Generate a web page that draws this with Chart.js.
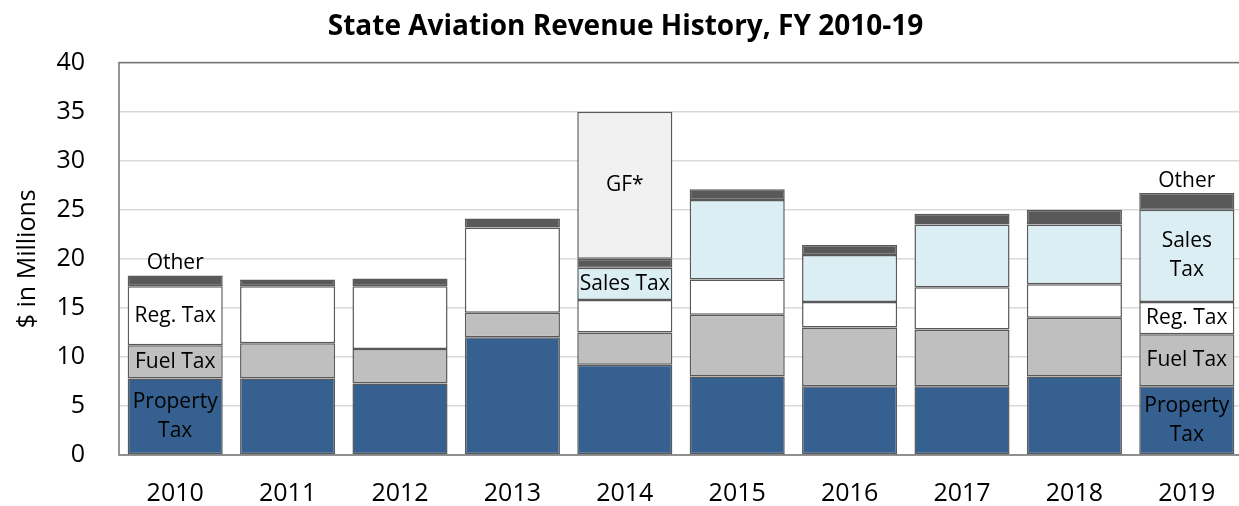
<!DOCTYPE html>
<html>
<head>
<meta charset="utf-8">
<script src="https://cdn.jsdelivr.net/npm/chart.js@4"></script>
<style>
  html, body { margin: 0; padding: 0; background: #fff; overflow: hidden; }
</style>
</head>
<body>
<canvas id="myChart" width="1243" height="506"></canvas>
<script>
const years = ["2010", "2011", "2012", "2013", "2014", "2015", "2016", "2017", "2018", "2019"];
const propertyTax = [7.8, 7.8, 7.3, 12.0, 9.2, 8.0, 7.0, 7.0, 8.0, 7.0];
const fuelTax     = [3.4, 3.6, 3.5, 2.5, 3.3, 6.3, 6.0, 5.8, 6.0, 5.3];
const regTax      = [6.0, 5.8, 6.4, 8.7, 3.3, 3.6, 2.6, 4.3, 3.4, 3.3];
const salesTax    = [0, 0, 0, 0, 3.3, 8.1, 4.8, 6.4, 6.1, 9.4];
const otherRev    = [1.1, 0.7, 0.8, 0.9, 0.9, 1.1, 1.0, 1.1, 1.5, 1.7];
const generalFund = [0, 0, 0, 0, 15.0, 0, 0, 0, 0, 0];
const yTicks = [0, 5, 10, 15, 20, 25, 30, 35, 40];

// which segments get a text label (dataset index, year index, lines)
const segLabels = [
  { ds: 0, i: 0, text: ["Property", "Tax"] },
  { ds: 1, i: 0, text: ["Fuel Tax"] },
  { ds: 2, i: 0, text: ["Reg. Tax"] },
  { ds: 4, i: 0, text: ["Other"], above: true },
  { ds: 3, i: 4, text: ["Sales Tax"] },
  { ds: 5, i: 4, text: ["GF*"] },
  { ds: 0, i: 9, text: ["Property", "Tax"] },
  { ds: 1, i: 9, text: ["Fuel Tax"] },
  { ds: 2, i: 9, text: ["Reg. Tax"] },
  { ds: 3, i: 9, text: ["Sales", "Tax"] },
  { ds: 4, i: 9, text: ["Other"], above: true },
];

const FONT = "'Open Sans', 'Noto Sans', sans-serif";

const barLabels = {
  id: 'barLabels',
  afterDatasetsDraw(chart) {
    const { ctx } = chart;
    ctx.save();
    ctx.font = "21px " + FONT;
    ctx.textAlign = 'center';
    ctx.textBaseline = 'middle';
    ctx.fillStyle = '#000000';
    segLabels.forEach((l) => {
      const el = chart.getDatasetMeta(l.ds).data[l.i];
      const lh = 29;
      let cy;
      if (l.above) {
        cy = el.y - 12;
      } else {
        cy = (el.y + el.base) / 2 - (l.text.length - 1) * lh / 2;
      }
      l.text.forEach((t, k) => ctx.fillText(t, el.x, cy + k * lh));
    });
    ctx.restore();
  }
};

const plotBorder = {
  id: 'plotBorder',
  beforeDatasetsDraw(chart) {
    const { ctx, chartArea: a } = chart;
    ctx.save();
    ctx.strokeStyle = '#737373';
    ctx.lineWidth = 1.5;
    ctx.strokeRect(a.left, a.top, a.right - a.left, a.bottom - a.top);
    ctx.restore();
  }
};

function ds(label, data, color) {
  return {
    label: label,
    data: data,
    backgroundColor: color,
    borderColor: '#595959',
    borderWidth: 1.5,
    borderSkipped: false,
    barPercentage: 0.846,
    categoryPercentage: 1.0,
  };
}

const ctx = document.getElementById("myChart");

const myChart = new Chart(ctx, {
  type: "bar",
  plugins: [barLabels, plotBorder],
  data: {
    labels: years,
    datasets: [
      ds("Property Tax", propertyTax, "#36608f"),
      ds("Fuel Tax", fuelTax, "#bfbfbf"),
      ds("Reg. Tax", regTax, "#ffffff"),
      ds("Sales Tax", salesTax, "#daeef3"),
      ds("Other", otherRev, "#595959"),
      ds("GF*", generalFund, "#f1f1f1"),
    ],
  },
  options: {
    responsive: false,
    animation: false,
    maintainAspectRatio: false,
    layout: {
      padding: { left: 8, right: 0, top: 4, bottom: 0 }
    },
    plugins: {
      title: {
        display: true,
        text: "State Aviation Revenue History, FY 2010-19",
        color: "#000",
        font: { family: FONT, size: 28, weight: 'bold' },
        padding: { top: 6, bottom: 19 },
      },
      legend: { display: false },
      tooltip: { enabled: false },
    },
    scales: {
      x: {
        stacked: true,
        afterFit(axis) { axis.height = 51; },
        grid: { display: false, drawTicks: false },
        border: { display: false },
        ticks: {
          color: '#000',
          font: { family: FONT, size: 25 },
          padding: 24,
          maxRotation: 0,
        },
      },
      y: {
        stacked: true,
        min: 0,
        max: 40,
        afterBuildTicks(axis) {
          axis.ticks = yTicks.map((v) => ({ value: v }));
        },
        afterFit(axis) { axis.width = 111; },
        grid: { color: '#d9d9d9', lineWidth: 1.5, drawTicks: false },
        border: { display: false },
        title: {
          display: true,
          text: "$ in Millions",
          color: '#000',
          font: { family: FONT, size: 25 },
          padding: { top: 5, bottom: 0 },
        },
        ticks: {
          color: '#000',
          font: { family: FONT, size: 25 },
          padding: 34,
        },
      },
    },
  },
});
</script>
</body>
</html>
